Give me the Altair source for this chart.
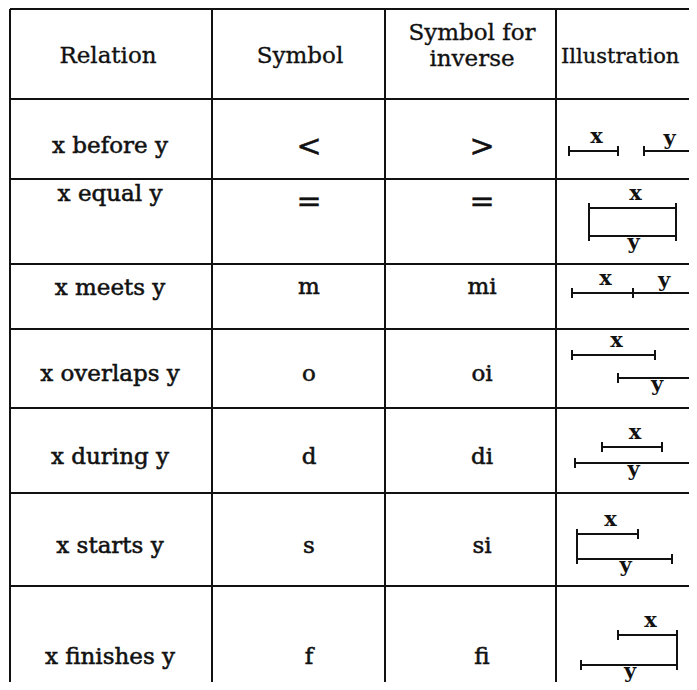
import altair as alt
import pandas as pd

# ---------------- table content ----------------
header_relation = "Relation"
header_symbol = "Symbol"
header_inverse = ["Symbol for", "inverse"]
header_illustration = "Illustration"

relations = ["x before y", "x equal y", "x meets y", "x overlaps y",
             "x during y", "x starts y", "x finishes y"]
symbols = ["<", "=", "m", "o", "d", "s", "f"]
inverses = [">", "=", "mi", "oi", "di", "si", "fi"]

# ---------------- illustration intervals ----------------
x_start = [569, 589, 572, 572, 602, 577, 618]
x_end = [618, 676, 633, 655, 662, 638, 677]
x_level = [150, 207, 292, 354, 446, 533, 634]
y_start = [644, 589, 633, 618, 575, 577, 581]
y_end = [693, 676, 693, 694, 690, 672, 677]
y_level = [150, 235, 292, 377, 462, 558, 664]
y_label_side = ["above", "below", "above", "below", "below", "below", "below"]

# ---------------- table layout ----------------
row_edges = [8, 98, 178, 263, 328, 407, 492, 585]
col_edges = [10, 212, 385, 556]
table_right = 697
table_bottom = 690
header_x = [108, 300, 472, 561]
header_base = [62, 39, 65]
rel_x, sym_x, inv_x = 110, 309, 482
row_base = [152, 200, 294, 380, 463, 552, 663]
sym_base = [155, 210, 293, 380, 463, 552, 663]
math_symbols = {"<", ">", "="}

FONT = "DejaVu Serif"
INK = "#111111"

X = alt.Scale(domain=[8, 689], nice=False, zero=False)
Y = alt.Scale(domain=[7, 681], nice=False, zero=False, reverse=True)


def xq(f="x"):
    return alt.X(f"{f}:Q", scale=X, axis=None)


def yq(f="y"):
    return alt.Y(f"{f}:Q", scale=Y, axis=None)


# grid lines
hlines = pd.DataFrame({"y": row_edges, "x": col_edges[0], "x2": table_right})
vlines = pd.DataFrame({"x": col_edges, "y": row_edges[0], "y2": table_bottom})

h_layer = alt.Chart(hlines).mark_rule(color=INK, strokeWidth=2, clip=True).encode(
    x=xq(), x2="x2:Q", y=yq())
v_layer = alt.Chart(vlines).mark_rule(color=INK, strokeWidth=2, clip=True).encode(
    x=xq(), y=yq(), y2="y2:Q")

# header texts
hdr = pd.DataFrame({
    "x": [header_x[0], header_x[1], header_x[2], header_x[2]],
    "y": [header_base[0], header_base[0], header_base[1], header_base[2]],
    "t": [header_relation, header_symbol, header_inverse[0], header_inverse[1]],
})
hdr_layer = alt.Chart(hdr).mark_text(font=FONT, fontSize=23, color=INK,
                                     stroke=INK, strokeWidth=0.35,
                                     align="center", baseline="alphabetic").encode(
    x=xq(), y=yq(), text="t:N")
ill = pd.DataFrame({"x": [header_x[3]], "y": [header_base[0]], "t": [header_illustration]})
ill_layer = alt.Chart(ill).mark_text(font=FONT, fontSize=21, color=INK,
                                     stroke=INK, strokeWidth=0.35,
                                     align="left", baseline="alphabetic").encode(
    x=xq(), y=yq(), text="t:N")

# body texts
rel_df = pd.DataFrame({"x": rel_x, "y": row_base, "t": relations})
sym_df = pd.DataFrame({"x": sym_x, "y": sym_base, "t": symbols})
inv_df = pd.DataFrame({"x": inv_x, "y": sym_base, "t": inverses})
body = pd.concat([rel_df, sym_df, inv_df], ignore_index=True)
body["fs"] = [30 if t in math_symbols else 23 for t in body["t"]]
body_layer = alt.Chart(body).mark_text(font=FONT, color=INK,
                                       stroke=INK, strokeWidth=0.55,
                                       align="center", baseline="alphabetic").encode(
    x=xq(), y=yq(), text="t:N", size=alt.Size("fs:Q", scale=None, legend=None))

# interval segments
segs = []
for i in range(len(relations)):
    segs.append({"x": x_start[i], "x2": x_end[i], "y": x_level[i]})
    segs.append({"x": y_start[i], "x2": y_end[i], "y": y_level[i]})
seg_df = pd.DataFrame(segs)
seg_layer = alt.Chart(seg_df).mark_rule(color=INK, strokeWidth=2, clip=True).encode(
    x=xq(), x2="x2:Q", y=yq())

# end ticks and joins
ticks = []
for i in range(len(relations)):
    for xx in (x_start[i], x_end[i]):
        ticks.append({"x": xx, "y": x_level[i] - 5, "y2": x_level[i] + 5})
    for xx in (y_start[i], y_end[i]):
        ticks.append({"x": xx, "y": y_level[i] - 5, "y2": y_level[i] + 5})
    if x_start[i] == y_start[i]:
        ticks.append({"x": x_start[i], "y": x_level[i] - 5, "y2": y_level[i] + 5})
    if x_end[i] == y_end[i]:
        ticks.append({"x": x_end[i], "y": x_level[i] - 5, "y2": y_level[i] + 5})
tick_df = pd.DataFrame(ticks)
tick_layer = alt.Chart(tick_df).mark_rule(color=INK, strokeWidth=2, clip=True).encode(
    x=xq(), y=yq(), y2="y2:Q")

# x / y labels
labs = []
for i in range(len(relations)):
    labs.append({"x": (x_start[i] + x_end[i]) / 2 + 3, "y": x_level[i] - 8, "t": "x"})
    yy = y_level[i] - 6 if y_label_side[i] == "above" else y_level[i] + 13
    labs.append({"x": (y_start[i] + y_end[i]) / 2 + 1, "y": yy, "t": "y"})
lab_df = pd.DataFrame(labs)
lab_layer = alt.Chart(lab_df).mark_text(font=FONT, fontSize=21, fontWeight="bold",
                                        color=INK, align="center",
                                        baseline="alphabetic").encode(
    x=xq(), y=yq(), text="t:N")

chart = alt.layer(
    h_layer, v_layer, hdr_layer, ill_layer, body_layer,
    seg_layer, tick_layer, lab_layer
).properties(
    width=681, height=674,
    autosize=alt.AutoSizeParams(type="none"),
    padding=0,
    background="white",
).configure_view(stroke=None)

chart.save("out.html", embed_options={"renderer": "svg", "actions": False})
